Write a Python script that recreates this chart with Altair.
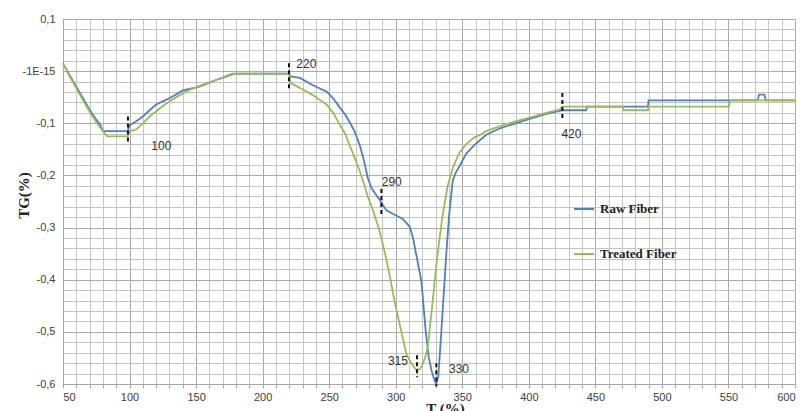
import altair as alt
import pandas as pd

# ---------------- data ----------------
raw_T = [50, 55, 60, 65, 70, 75, 78, 80, 98.6, 100, 105, 110, 115, 120, 125, 130, 140, 152, 165, 179,
         219.8, 221, 228, 237, 248, 253, 258, 262, 265, 269, 273, 276, 279, 282, 286, 289, 293, 298,
         305, 310.5, 313, 315.5, 319.3, 322.5, 324.8, 327, 329, 330.5, 332, 334, 336, 338, 340, 342.8,
         345, 348, 353, 359, 368, 378, 390, 400, 413, 425, 443, 444, 489.5, 490, 572, 573, 577, 578, 600]
raw_TG = [0.015, -0.008, -0.03, -0.052, -0.074, -0.093, -0.103, -0.115, -0.115, -0.104, -0.096, -0.087,
          -0.075, -0.064, -0.058, -0.052, -0.037, -0.03, -0.017, -0.005,
          -0.005, -0.01, -0.013, -0.026, -0.039, -0.052, -0.07, -0.083, -0.096, -0.115, -0.142, -0.17,
          -0.205, -0.225, -0.24, -0.251, -0.267, -0.274, -0.283, -0.298, -0.32, -0.353, -0.403, -0.498,
          -0.549, -0.575, -0.592, -0.60, -0.585, -0.51, -0.43, -0.35, -0.28, -0.21,
          -0.195, -0.182, -0.158, -0.142, -0.122, -0.11, -0.1, -0.092, -0.082, -0.075, -0.075, -0.068,
          -0.068, -0.056, -0.056, -0.045, -0.045, -0.056, -0.056]

treated_T = [50, 55, 60, 65, 70, 75, 80, 83, 98.6, 100, 105, 110, 115, 120, 125, 130, 137, 145, 155, 165,
             177, 219.8, 221, 228, 237, 248, 253, 258, 262, 265, 269, 273, 276, 279, 282, 285, 288, 292,
             295.4, 299, 303, 306, 308, 310.5, 312.7, 315, 318, 320.2, 322, 324, 327, 331, 335, 339, 343,
             345.6, 348, 353, 359, 363, 368, 378, 390.6, 400.6, 413, 423, 425, 470.8, 471, 489.5, 490,
             550.5, 551, 600]
treated_TG = [0.015, -0.01, -0.033, -0.056, -0.078, -0.098, -0.115, -0.125, -0.125, -0.115, -0.112, -0.1,
              -0.087, -0.077, -0.067, -0.058, -0.047, -0.036, -0.026, -0.017,
              -0.005, -0.005, -0.023, -0.032, -0.045, -0.064, -0.08, -0.103, -0.12, -0.14, -0.165, -0.192,
              -0.215, -0.241, -0.26, -0.283, -0.308, -0.35, -0.391, -0.44, -0.486, -0.52, -0.543, -0.555,
              -0.564, -0.572, -0.572, -0.562, -0.55, -0.53, -0.46, -0.36, -0.28, -0.22, -0.185,
              -0.169, -0.156, -0.14, -0.127, -0.123, -0.115, -0.106, -0.096, -0.089, -0.08, -0.074,
              -0.068, -0.068, -0.075, -0.075, -0.068, -0.068, -0.056, -0.056]

series_names = ["Raw Fiber", "Treated Fiber"]
series_colors = ["#4f81bd", "#9bbb59"]

# tick / grid positions: majors every 50 and 0.1, minors every 10 and 0.02
x_ticks = list(range(50, 601, 10))
y_ticks = [round(-0.6 + 0.02 * i, 2) for i in range(36)]

# annotation markers
mark_T = [98.8, 219.8, 289.2, 316, 330.5, 425.2]
mark_top = [-0.087, 0.015, -0.226, -0.545, -0.56, -0.042]
mark_bot = [-0.137, -0.036, -0.277, -0.587, -0.605, -0.093]

lab_text = ["100", "220", "290", "315", "330", "420"]
lab_T = [123.9, 225.3, 289.5, 309.2, 340.0, 432.0]
lab_TG = [-0.144, 0.014, -0.213, -0.556, -0.571, -0.121]
lab_align = ["center", "left", "left", "right", "left", "center"]

# ---------------- build ----------------
df = pd.concat([
    pd.DataFrame({"T": raw_T, "TG": raw_TG, "series": series_names[0], "o": range(len(raw_T))}),
    pd.DataFrame({"T": treated_T, "TG": treated_TG, "series": series_names[1], "o": range(len(treated_T))}),
])

x_scale = alt.Scale(domain=[50, 600], nice=False, zero=False)
y_scale = alt.Scale(domain=[-0.6, 0.1], nice=False, zero=False)

x_major = "datum.value % 50 === 0"
y_major = "abs(datum.value * 10 - round(datum.value * 10)) < 0.001"

x_axis = alt.Axis(values=x_ticks, title="T (%)", grid=True,
                  gridColor={"condition": {"test": x_major, "value": "#a9a9a9"}, "value": "#c4c4c4"},
                  labelExpr=f"{x_major} ? datum.label : ''",
                  labelFont="Liberation Sans", labelFontSize=11, labelColor="#404040",
                  labelPadding=3, tickSize=4, tickColor="#a6a6a6", domainColor="#a6a6a6",
                  titleFont="Liberation Serif", titleFontWeight="bold", titleFontSize=15,
                  titleColor="#222222", titleX=382, titleY=29, titleBaseline="alphabetic")
y_axis = alt.Axis(values=y_ticks, title="TG(%)", grid=True,
                  gridColor={"condition": {"test": y_major, "value": "#a9a9a9"}, "value": "#c4c4c4"},
                  labelExpr=f"({y_major}) ? (abs(datum.value) < 1e-9 ? '-1E-15' : (datum.value < 0 ? '-' : '') + replace(format(abs(datum.value), '.1f'), '.', ',')) : ''",
                  labelFont="Liberation Sans", labelFontSize=11, labelColor="#404040",
                  labelPadding=8, tickSize=0, domainColor="#a6a6a6",
                  titleFont="Liberation Serif", titleFontWeight="bold", titleFontSize=15,
                  titleColor="#222222", titleX=-40, titleY=176, titleAngle=-90,
                  titleAlign="center", titleBaseline="middle")

X = lambda f: alt.X(f, type="quantitative", scale=x_scale, axis=x_axis)
Y = lambda f: alt.Y(f, type="quantitative", scale=y_scale, axis=y_axis)

lines = alt.Chart(df).mark_line(strokeWidth=1.8).encode(
    x=X("T"), y=Y("TG"), order="o:Q",
    color=alt.Color("series:N", scale=alt.Scale(domain=series_names, range=series_colors),
                    legend=alt.Legend(orient="none", legendX=510, legendY=179, title=None,
                                      symbolType="stroke", symbolSize=400, symbolStrokeWidth=2,
                                      labelFont="Liberation Serif", labelFontWeight="bold",
                                      labelFontSize=13, labelColor="#222222", labelOffset=5,
                                      rowPadding=27, padding=0)),
)

mk = pd.DataFrame({"T": mark_T, "top": mark_top, "bot": mark_bot})
markers = alt.Chart(mk).mark_rule(color="#111111", strokeWidth=2, strokeDash=[4, 3]).encode(
    x=X("T"), y=Y("top"), y2="bot:Q")

lab = pd.DataFrame({"T": lab_T, "TG": lab_TG, "txt": lab_text, "al": lab_align})
texts = []
for a in ["left", "center", "right"]:
    texts.append(alt.Chart(lab[lab["al"] == a]).mark_text(
        align=a, baseline="middle", font="Liberation Sans", fontSize=12, color="#333333").encode(
        x=X("T"), y=Y("TG"), text="txt:N"))

chart = alt.layer(lines, markers, *texts).properties(
    width=732, height=365,
    autosize=alt.AutoSizeParams(type="none"),
    padding={"left": 63, "top": 19, "right": 14, "bottom": 27},
    background="white",
).configure_view(stroke="#a9a9a9")

chart.save("out.html", embed_options={"renderer": "svg", "actions": False})
